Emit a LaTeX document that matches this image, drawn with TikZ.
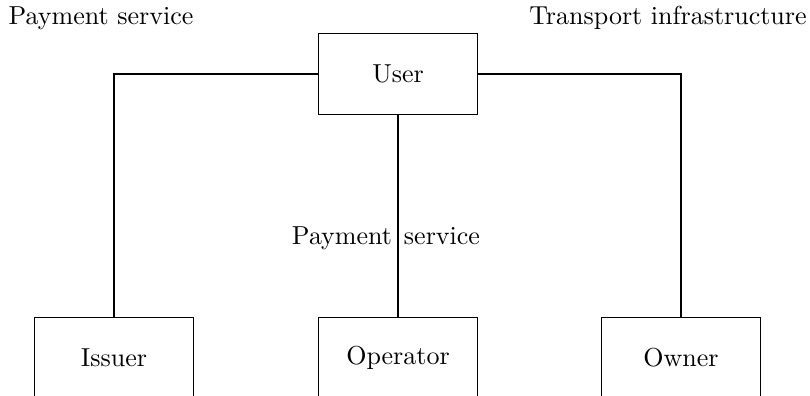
\documentclass[tikz,border=0pt]{standalone}
\begin{document}
\begin{tikzpicture}[x=0.3846pt,y=-0.3846pt,
  entity/.style={draw,line width=0.4pt,minimum width=61.5pt,minimum height=30.8pt,inner sep=0pt},
  link/.style={draw,line width=0.4pt}]
\useasboundingbox (0,0) rectangle (810,396);
\node[entity] (user) at (398,74) {User};
\node[entity] (issuer) at (114,358) {Issuer};
\node[entity] (operator) at (398,358) {Operator};
\node[entity] (owner) at (681,358) {Owner};
\node (paytop) at (101,18) {Payment service};
\node (transport) at (668,18) {Transport infrastructure};
\node (paymid) at (386,238) {Payment\hspace{4.6pt}service};
\draw[link] (user.west) -| (issuer.north);
\draw[link] (user.south) -- (operator.north);
\draw[link] (user.east) -| (owner.north);
\end{tikzpicture}
\end{document}
